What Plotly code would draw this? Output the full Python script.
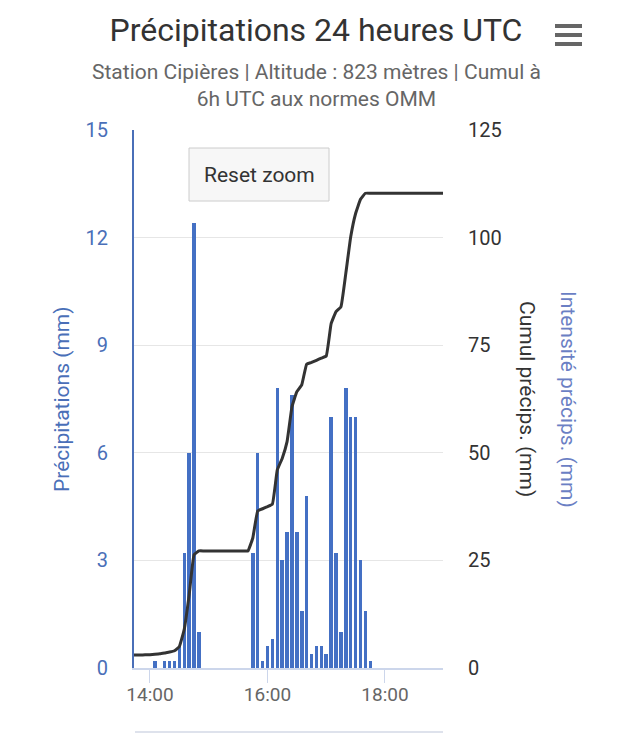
import plotly.graph_objects as go

DAY = "2024-01-01 "

# 5-minute rainfall bars (mm)
bar_times = ["14:05", "14:15", "14:20", "14:25", "14:30", "14:35", "14:40", "14:45", "14:50",
             "15:45", "15:50", "15:55", "16:00", "16:05", "16:10", "16:15", "16:20", "16:25",
             "16:30", "16:35", "16:40", "16:45", "16:50", "16:55", "17:00", "17:05", "17:10",
             "17:15", "17:20", "17:25", "17:30", "17:35", "17:40", "17:45"]
bar_values = [0.2, 0.2, 0.2, 0.2, 0.6, 3.2, 6.0, 12.4, 1.0,
              3.2, 6.0, 0.2, 0.6, 0.8, 7.8, 3.0, 3.8, 7.6,
              3.8, 1.6, 4.8, 0.4, 0.6, 0.6, 0.4, 7.0, 3.2,
              1.0, 7.8, 7.0, 7.0, 3.0, 1.6, 0.2]

# cumulative rainfall line (mm)
cum_times = ["13:40", "13:45", "13:50", "13:55", "14:00", "14:05", "14:10", "14:15", "14:20",
             "14:25", "14:30", "14:35", "14:40", "14:45", "14:50", "14:55", "15:00", "15:05",
             "15:10", "15:15", "15:20", "15:25", "15:30", "15:35", "15:40", "15:45", "15:50",
             "15:55", "16:00", "16:05", "16:10", "16:15", "16:20", "16:25", "16:30", "16:35",
             "16:40", "16:45", "16:50", "16:55", "17:00", "17:05", "17:10", "17:15", "17:20",
             "17:25", "17:30", "17:35", "17:40", "17:45", "18:00", "18:30", "19:00", "19:10"]
cum_values = [3.0, 3.0, 3.0, 3.05, 3.1, 3.2, 3.3, 3.5, 3.7,
              4.0, 5.0, 9.0, 17.0, 26.3, 27.2, 27.2, 27.2, 27.2,
              27.2, 27.2, 27.2, 27.2, 27.2, 27.2, 27.2, 30.2, 36.5,
              37.0, 37.5, 38.1, 46.0, 48.7, 52.6, 60.7, 64.2, 65.8,
              70.6, 71.0, 71.5, 72.0, 72.5, 80.0, 82.8, 83.9, 91.7,
              100.2, 105.6, 108.9, 110.3, 110.3, 110.3, 110.3, 110.3, 110.3]

left_ticks = [0, 3, 6, 9, 12, 15]
right_ticks = [0, 25, 50, 75, 100, 125]

TITLE = "Précipitations 24 heures UTC"
SUBTITLE = "Station Cipières | Altitude : 823 mètres | Cumul à<br>6h UTC aux normes OMM"

FONT = "Roboto"
BLUE = "#4470c4"
AXBLUE = "#4a6fb8"

OFF = 8  # page body margin
W, H = 632 - OFF, 750 - OFF
# plot area in screen pixels
SL, SR, ST, SB = 134, 443, 130, 668
L, R, T, B = SL - OFF, SR - OFF, ST - OFF, SB - OFF


def px(x):
    return (x - SL) / (SR - SL)


def py(y):
    return (SB - y) / (SB - ST)


fig = go.Figure()
fig.add_trace(go.Bar(
    x=[DAY + t for t in bar_times], y=bar_values,
    width=216000, marker=dict(color=BLUE, line=dict(width=0)),
    yaxis="y", showlegend=False,
))
fig.add_trace(go.Scatter(
    x=[DAY + t for t in cum_times], y=cum_values,
    mode="lines", line=dict(color="#333333", width=3, shape="spline", smoothing=0.3),
    yaxis="y2", showlegend=False,
))

fig.update_layout(
    width=W, height=H, autosize=False,
    margin=dict(l=L, r=W - R, t=T, b=H - B, pad=0),
    paper_bgcolor="white", plot_bgcolor="white",
    font=dict(family=FONT, color="#333333"),
    bargap=0,
    title=dict(text=TITLE, x=(316 - OFF) / W, xref="container", xanchor="center",
               y=1 - (30 - OFF) / H, yref="container", yanchor="middle",
               font=dict(family=FONT, size=32, color="#333333")),
    xaxis=dict(
        type="date",
        range=[DAY + "13:43:40", DAY + "18:59:15"],
        tick0=DAY + "14:00", dtick=7200000, tickformat="%H:%M",
        showgrid=False, zeroline=False,
        showline=True, linecolor="#ccd6eb", linewidth=1.5,
        ticks="outside", ticklen=13, tickcolor="#ccd6eb", tickwidth=1,
        ticklabelstandoff=-5,
        tickfont=dict(family=FONT, size=19, color="#666666"),
        fixedrange=True,
    ),
    yaxis=dict(
        range=[0, 15], tickvals=left_ticks,
        showgrid=True, gridcolor="#e6e6e6", gridwidth=1, zeroline=False,
        showline=True, linecolor=AXBLUE, linewidth=2,
        ticks="", ticklabelstandoff=20,
        tickfont=dict(family=FONT, size=20, color=AXBLUE),
    ),
    yaxis2=dict(
        range=[0, 125], tickvals=right_ticks, overlaying="y", side="right",
        showgrid=False, zeroline=False, showline=False,
        ticks="", ticklabelstandoff=24,
        tickfont=dict(family=FONT, size=20, color="#333333"),
    ),
)

annotations = [
    dict(text=SUBTITLE, x=px(316), y=py(85), xref="paper", yref="paper",
         xanchor="center", yanchor="middle", showarrow=False,
         font=dict(family=FONT, size=21, color="#666666")),
    dict(text="Précipitations (mm)", x=px(62), y=py(399), xref="paper", yref="paper",
         xanchor="center", yanchor="middle", showarrow=False, textangle=-90,
         font=dict(family=FONT, size=21, color=AXBLUE)),
    dict(text="Cumul précips. (mm)", x=px(527), y=py(399), xref="paper", yref="paper",
         xanchor="center", yanchor="middle", showarrow=False, textangle=90,
         font=dict(family=FONT, size=21, color="#333333")),
    dict(text="Intensité précips. (mm)", x=px(568), y=py(399), xref="paper", yref="paper",
         xanchor="center", yanchor="middle", showarrow=False, textangle=90,
         font=dict(family=FONT, size=21, color="#6b7fc4")),
    dict(text="Reset zoom", x=px(259), y=py(175), xref="paper", yref="paper",
         xanchor="center", yanchor="middle", showarrow=False,
         font=dict(family=FONT, size=21, color="#333333")),
]
fig.update_layout(annotations=annotations)

shapes = [
    dict(type="rect", xref="paper", yref="paper", x0=px(189), x1=px(329), y0=py(201), y1=py(148),
         fillcolor="#f7f7f7", line=dict(color="#cccccc", width=1), layer="above"),
    dict(type="line", xref="paper", yref="paper", x0=px(135), x1=px(443), y0=py(732), y1=py(732),
         line=dict(color="#d3d9e6", width=1.5)),
]
for yy in (26, 35, 44):
    shapes.append(dict(type="line", xref="paper", yref="paper", x0=px(555), x1=px(582),
                       y0=py(yy), y1=py(yy), line=dict(color="#666666", width=4)))
fig.update_layout(shapes=shapes)

fig.write_html("out.html", config={"displayModeBar": False})
